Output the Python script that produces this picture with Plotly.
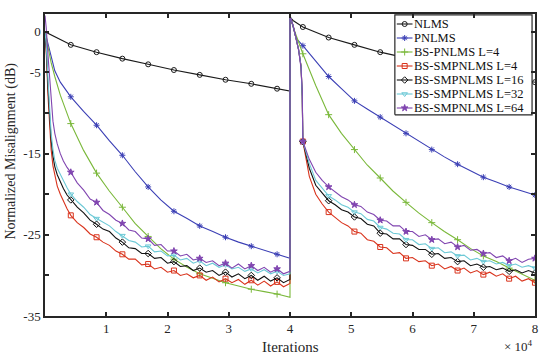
import plotly.graph_objects as go

# ---------------- data ----------------
MARK_STEP = 4210  # marker spacing in iterations

# NLMS
nlms_x = [0, 1000, 2000, 4210, 8420, 12630, 16840, 21050, 25260, 29470, 33680, 37890, 40000,
          40000, 40500, 42100, 46310, 50520, 54730, 58940, 63150, 67360, 71570, 75780, 79990]
nlms_y = [0, -0.4, -0.8, -1.6, -2.5, -3.3, -4.0, -4.7, -5.3, -5.9, -6.4, -7.0, -7.3,
          1.8, 1.4, 0.6, -0.7, -1.6, -2.5, -3.2, -3.8, -4.4, -5.0, -5.6, -6.2]

# PNLMS
pnlms_x = [0, 500, 1000, 1600, 2500, 4210, 6300, 8420, 10500, 12630, 14700, 16840, 18900, 21050,
           23200, 25260, 27400, 29470, 31600, 33680, 35800, 37890, 40000,
           40000, 40600, 41000, 42100, 44200, 46310, 48400, 50520, 52600, 54730, 56800, 58940,
           61000, 63150, 65200, 67360, 69500, 71570, 73700, 75780, 77900, 79990]
pnlms_y = [0, -1.5, -3.2, -4.8, -6.2, -8.0, -9.8, -11.5, -13.4, -15.2, -17.2, -19.1, -20.7, -22.1,
           -23.0, -23.9, -24.6, -25.3, -25.9, -26.4, -26.9, -27.4, -27.9,
           2.0, 0.5, -0.8, -1.7, -3.6, -5.5, -7.0, -8.5, -9.5, -10.5, -11.5, -12.5,
           -13.5, -14.5, -15.4, -16.3, -17.1, -17.9, -18.5, -19.1, -19.6, -20.1]

# BS-PNLMS L=4
bspn_x = [0, 500, 1000, 1600, 2500, 4210, 6300, 8420, 10500, 12630, 14700, 16840, 18900, 21050,
          23200, 25260, 27400, 29470, 31600, 33680, 35800, 37890, 40000,
          40000, 40700, 42100, 44200, 46310, 48400, 50520, 52600, 54730, 56800, 58940,
          61000, 63150, 65200, 67360, 69500, 71570, 73700, 75780, 77900, 79990]
bspn_y = [0, -2.0, -3.8, -5.5, -7.8, -11.3, -14.6, -17.4, -19.6, -21.6, -23.6, -25.2, -26.7, -28.0,
          -29.0, -29.8, -30.4, -30.9, -31.3, -31.7, -32.0, -32.3, -32.7,
          2.0, 0.2, -2.7, -6.6, -10.2, -12.5, -14.5, -16.4, -18.0, -19.6, -21.0,
          -22.3, -23.5, -24.6, -25.6, -26.7, -27.6, -28.3, -29.1, -29.9, -30.6]

# iteration grid of the BS-SMPNLMS curves
grid_x = ([0, 200, 500, 800, 1000, 1300, 1600, 2000, 2500, 3000, 3600]
          + [1052.5 * k for k in range(4, 39)]
          + [40000, 40500, 41000, 41400, 41800, 42000]
          + [1052.5 * k for k in range(40, 77)])

sm4_y = ([0, -2.5, -8.0, -12.5, -14.5, -16.5, -17.8, -19.0, -20.0, -20.9, -21.8,
          -22.6, -23.5, -24.1, -24.9, -25.3, -25.9, -26.3, -27.0, -27.4, -28.0, -28.0, -28.7,
          -28.6, -29.2, -29.0, -29.6, -29.4, -30.0, -29.8, -30.3, -30.0, -30.6, -30.2, -30.8,
          -30.4, -30.9, -30.5, -31.1, -30.6, -31.2, -30.7, -31.3, -30.8, -31.4, -31.0]
         + [1.8, 0.8, -0.8, -2.2, -4.2, -8.0,
            -13.5, -17.8, -20.0, -21.2, -22.2, -22.9, -23.5, -23.9, -24.6, -24.8, -25.6, -25.8,
            -26.5, -26.6, -27.3, -27.2, -27.9, -27.8, -28.3, -28.2, -28.8, -28.6, -29.2, -28.9,
            -29.4, -29.1, -29.7, -29.4, -29.9, -29.6, -30.1, -29.8, -30.4, -30.1, -30.7, -30.4, -30.9])

sm16_y = ([0, -2.0, -7.0, -11.5, -13.3, -15.3, -16.6, -17.6, -18.5, -19.3, -20.1,
           -20.7, -21.6, -22.3, -23.2, -23.7, -24.3, -24.6, -25.4, -25.9, -26.6, -26.7, -27.3,
           -27.3, -27.9, -27.8, -28.5, -28.3, -28.9, -28.8, -29.4, -29.1, -29.6, -29.4, -30.0,
           -29.6, -30.2, -29.8, -30.4, -30.0, -30.6, -30.1, -30.7, -30.3, -30.9, -30.5]
          + [1.8, 0.8, -0.8, -2.2, -4.2, -8.0,
             -13.5, -16.8, -18.9, -19.9, -20.8, -21.3, -21.9, -22.2, -22.8, -23.0, -23.7, -23.9,
             -24.8, -24.9, -25.5, -25.5, -26.2, -26.3, -26.8, -26.8, -27.4, -27.3, -27.9, -27.8,
             -28.3, -28.2, -28.8, -28.6, -29.0, -28.9, -29.3, -29.1, -29.5, -29.3, -29.7, -29.4, -29.7])

sm32_y = ([0, -1.5, -6.0, -10.5, -12.5, -14.5, -15.8, -16.8, -17.6, -18.3, -19.2,
           -20.0, -20.9, -21.6, -22.5, -23.0, -23.5, -23.9, -24.6, -25.1, -25.7, -25.9, -26.5,
           -26.4, -27.1, -27.0, -27.6, -27.5, -28.1, -27.9, -28.5, -28.2, -28.8, -28.5, -29.0,
           -28.7, -29.2, -29.0, -29.5, -29.2, -29.7, -29.3, -29.8, -29.5, -30.0, -29.8]
          + [1.9, 0.8, -0.8, -2.2, -4.2, -8.0,
             -13.5, -16.2, -18.3, -19.3, -20.2, -20.7, -21.3, -21.6, -22.2, -22.4, -23.1, -23.3,
             -24.1, -24.3, -24.8, -24.9, -25.6, -25.6, -26.2, -26.1, -26.7, -26.6, -27.2, -27.1,
             -27.6, -27.5, -28.1, -27.9, -28.3, -28.2, -28.6, -28.4, -28.8, -28.6, -29.0, -28.8, -29.1])

sm64_y = ([2.0, 0.5, -3.0, -6.5, -8.6, -11.0, -12.5, -13.8, -15.0, -15.9, -16.7,
           -17.3, -18.6, -19.5, -20.6, -21.0, -22.0, -22.5, -23.2, -23.6, -24.4, -24.6, -25.4,
           -25.5, -26.3, -26.2, -27.0, -27.0, -27.6, -27.4, -28.1, -27.9, -28.4, -28.2, -28.8,
           -28.5, -29.1, -28.6, -29.2, -28.8, -29.4, -29.0, -29.6, -29.2, -29.8, -29.5]
          + [2.0, 0.8, -0.8, -2.2, -4.5, -7.2,
             -13.5, -15.7, -17.3, -18.3, -19.1, -19.7, -20.3, -20.7, -21.3, -21.5, -22.2, -22.5,
             -23.2, -23.3, -23.9, -23.9, -24.6, -24.6, -25.2, -25.0, -25.6, -25.5, -26.1, -25.9,
             -26.5, -26.3, -26.9, -26.8, -27.3, -27.2, -27.8, -27.6, -28.2, -27.9, -28.4, -28.0, -27.9])

names = ["NLMS", "PNLMS", "BS-PNLMS L=4", "BS-SMPNLMS L=4",
         "BS-SMPNLMS L=16", "BS-SMPNLMS L=32", "BS-SMPNLMS L=64"]
xs = [nlms_x, pnlms_x, bspn_x, grid_x, grid_x, grid_x, grid_x]
ys = [nlms_y, pnlms_y, bspn_y, sm4_y, sm16_y, sm32_y, sm64_y]
colors = ["#1a1a1a", "#3b3fb5", "#7ab83a", "#d9331c", "#111111", "#6cc9d6", "#8045b0"]
symbols = ["circle-open", "asterisk-open", "cross-thin-open", "square-open",
           "diamond-open", "triangle-down-open", "star"]

x_ticks = [10000, 20000, 30000, 40000, 50000, 60000, 70000, 80000]
x_ticktext = ["1", "2", "3", "4", "5", "6", "7", "8"]
y_ticks = [0, -5, -10, -15, -20, -25, -30, -35]
y_ticktext = ["0", "-5", "", "-15", "", "-25", "", "-35"]

FONT = "Liberation Serif"
INK = "#262626"

# ---------------- figure ----------------
marks = [MARK_STEP * k for k in range(1, 20)]
fig = go.Figure()
for name, x, y, c, s in zip(names, xs, ys, colors, symbols):
    fig.add_trace(go.Scatter(x=x, y=y, mode="lines", line=dict(color=c, width=1.1),
                             showlegend=False, hoverinfo="skip"))
    sel = [i for i, a in enumerate(x) if any(abs(a - m) < 1 for m in marks)]
    fig.add_trace(go.Scatter(x=[x[i] for i in sel], y=[y[i] for i in sel], mode="markers",
                             marker=dict(symbol=s, size=5, color=c, line=dict(color=c, width=1)),
                             showlegend=False, hoverinfo="skip"))

# ---- legend drawn on an overlay axis spanning the plot area (0..1) ----
lx0, lx1, ly0, ly1 = 0.714, 0.994, 0.666, 0.997   # legend box (plot fractions)
fig.add_trace(go.Scatter(x=[lx0, lx1, lx1, lx0, lx0], y=[ly0, ly0, ly1, ly1, ly0],
                         mode="lines", fill="toself", fillcolor="white",
                         line=dict(color=INK, width=1.2), xaxis="x2", yaxis="y2",
                         showlegend=False, hoverinfo="skip"))
row_y = [1 - (py - 14) / 302 for py in [24, 38, 52, 66, 80, 94, 108]]
sx0, sx1 = 0.718, 0.750
annotations = []
for name, c, s, ry in zip(names, colors, symbols, row_y):
    fig.add_trace(go.Scatter(x=[sx0, sx1], y=[ry, ry], mode="lines",
                             line=dict(color=c, width=1.1), xaxis="x2", yaxis="y2",
                             showlegend=False, hoverinfo="skip"))
    fig.add_trace(go.Scatter(x=[(sx0 + sx1) / 2], y=[ry], mode="markers",
                             marker=dict(symbol=s, size=5, color=c, line=dict(color=c, width=1)),
                             xaxis="x2", yaxis="y2", showlegend=False, hoverinfo="skip"))
    annotations.append(dict(text=name, xref="paper", yref="paper", x=0.748, y=ry,
                            xanchor="left", yanchor="middle", showarrow=False,
                            font=dict(family=FONT, size=12.5, color="#111111")))

# axis titles and exponent as annotations
annotations.append(dict(text="Iterations", xref="paper", yref="paper",
                        x=0.5, y=-0.103, xanchor="center", yanchor="middle", showarrow=False,
                        font=dict(family=FONT, size=15, color=INK)))
annotations.append(dict(text="Normalized Misalignment (dB)", xref="paper", yref="paper",
                        x=-0.069, y=0.545, xanchor="center", yanchor="middle", showarrow=False,
                        textangle=-90, font=dict(family=FONT, size=14, color=INK)))
annotations.append(dict(text="× 10<sup>4</sup>", xref="paper", yref="paper",
                        x=1.0, y=-0.1, xanchor="right", yanchor="middle", showarrow=False,
                        font=dict(family=FONT, size=13, color=INK)))

axis_common = dict(showline=True, linecolor=INK, linewidth=1.5, mirror="ticks",
                   ticks="inside", ticklen=4, tickcolor=INK, tickwidth=1.5,
                   showgrid=False, zeroline=False,
                   tickfont=dict(family=FONT, size=13, color=INK))

fig.update_layout(
    width=550, height=358,
    margin=dict(l=45, r=12, t=14, b=42),
    paper_bgcolor="white", plot_bgcolor="white",
    font=dict(family=FONT, size=13, color=INK),
    showlegend=False,
    xaxis=dict(range=[0, 80000], tickvals=x_ticks, ticktext=x_ticktext, **axis_common),
    yaxis=dict(range=[-35, 2.2], tickvals=y_ticks, ticktext=y_ticktext, **axis_common),
    xaxis2=dict(overlaying="x", range=[0, 1], visible=False, fixedrange=True),
    yaxis2=dict(overlaying="y", range=[0, 1], visible=False, fixedrange=True),
    annotations=annotations,
)

fig.write_html("out.html", config={"displayModeBar": False},
               post_script="document.body.style.margin='0';document.body.style.padding='0';")
